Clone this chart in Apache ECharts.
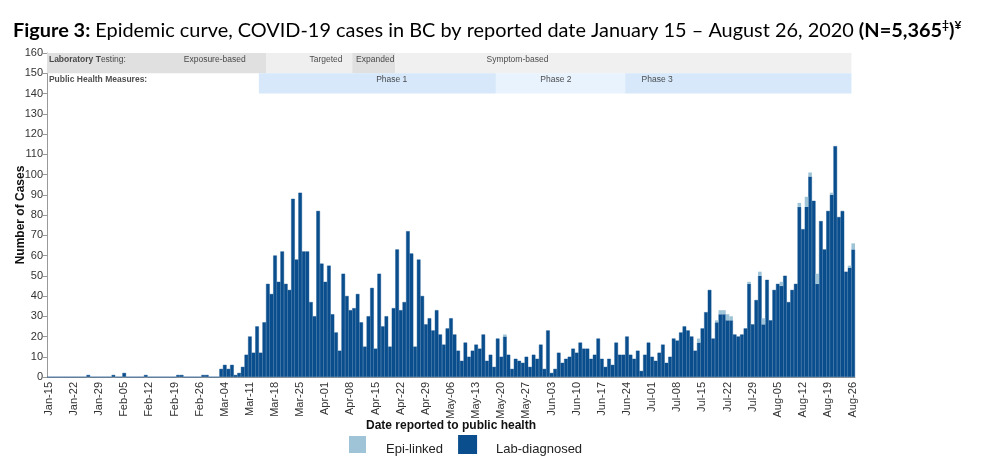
<!DOCTYPE html>
<html>
<head>
<meta charset="utf-8">
<script src="https://cdn.jsdelivr.net/npm/echarts@6/dist/echarts.min.js"></script>
<style>
  html, body { margin: 0; padding: 0; background: #fff; }
  #chart { width: 1004px; height: 460px; }
</style>
</head>
<body>
<div id="chart"></div>
<script>
// daily counts, Jan 15 .. Aug 26 2020 (225 days)
var startDate = new Date(2020, 0, 15);
var dayCount = 225;

var labDiagnosed = [
  0,0,0,0,0,0,0,0,0,0, 0,1,0,0,0,0,0,0,1,0,
  0,2,0,0,0,0,0,1,0,0, 0,0,0,0,0,0,1,1,0,0,
  0,0,0,1,1,0,0,0,4,6, 4,6,1,2,5,11,20,12,25,12,
  27,46,41,60,47,62,46,43,88,58, 91,62,62,37,30,82,56,47,55,31,
  22,13,51,40,33,34,41,27,15,30, 44,14,51,25,30,15,34,63,33,37,
  72,61,15,58,40,26,29,23,33,21, 16,24,29,21,13,8,17,10,13,16,
  14,21,8,11,5,19,10,20,11,4, 9,8,7,10,5,11,9,16,4,23,
  2,4,12,7,9,10,14,12,17,14, 14,9,11,19,9,5,9,6,17,11,
  11,20,11,9,13,3,11,17,10,8, 12,16,7,10,19,18,22,25,23,20,
  13,17,24,32,43,19,27,31,31,28, 28,21,20,21,24,46,26,38,50,26,
  48,28,43,46,45,50,37,43,46,84, 73,84,99,87,46,77,63,82,90,114,
  79,82,52,54,63
];

var epiLinked = [
  0,0,0,0,0,0,0,0,0,0, 0,0,0,0,0,0,0,0,0,0,
  0,0,0,0,0,0,0,0,0,0, 0,0,0,0,0,0,0,0,0,0,
  0,0,0,0,0,0,0,0,0,0, 0,0,0,0,0,0,0,0,0,0,
  0,0,0,0,0,0,0,0,0,0, 0,0,0,0,0,0,0,0,0,0,
  0,0,0,0,0,0,0,0,0,0, 0,0,0,0,0,0,0,0,0,0,
  0,0,0,0,0,0,0,0,0,0, 0,0,0,0,0,0,0,0,0,0,
  0,0,0,0,0,0,0,1,0,0, 0,0,0,0,0,0,0,0,0,0,
  0,0,0,0,0,0,0,0,0,0, 0,0,0,0,0,0,0,0,0,0,
  0,0,0,0,0,0,0,0,0,0, 0,0,0,0,0,0,0,0,0,0,
  0,2,0,0,0,0,1,2,2,3, 2,0,0,0,0,1,0,0,2,3,
  0,0,0,0,2,0,0,0,0,2, 0,5,2,0,5,0,0,0,1,0,
  0,0,0,1,3
];

var testingNames = ['Exposure-based', 'Targeted', 'Expanded', 'Symptom-based'];
var testingStarts = ['Jan-15', 'Mar-16', 'Apr-09', 'Apr-21'];
var phaseNames = ['Phase 1', 'Phase 2', 'Phase 3'];
var phaseStarts = ['Mar-14', 'May-19', 'Jun-24'];
var bandsEnd = 'Aug-26';

var yTicks = { min: 0, max: 160, step: 10 };

var monthAbbr = ['Jan','Feb','Mar','Apr','May','Jun','Jul','Aug','Sep','Oct','Nov','Dec'];
var categories = [];
for (var d = 0; d < dayCount; d++) {
    var dt = new Date(startDate.getFullYear(), startDate.getMonth(), startDate.getDate() + d);
    var dd = dt.getDate();
    categories.push(monthAbbr[dt.getMonth()] + '-' + (dd < 10 ? '0' + dd : dd));
}

var FONT = 'Arial';
var labColor = '#0b4e8d';
var epiColor = '#9fc4d7';

function idx(label) { return categories.indexOf(label); }

// band rectangles on the hidden value axis (day index = left edge of that day)
var testingColors = ['#e0e0e0', '#efefef', '#e0e0e0', '#f0f0f0'];
var phaseColors = ['#d6e8fa', '#e9f3fd', '#d6e8fa'];
var bandAreas = [];
testingNames.forEach(function(n, k) {
    var a = idx(testingStarts[k]);
    var b = k + 1 < testingStarts.length ? idx(testingStarts[k + 1]) : idx(bandsEnd);
    bandAreas.push([{ xAxis: a, yAxis: 150, itemStyle: { color: testingColors[k] } }, { xAxis: b, yAxis: 160 }]);
});
phaseNames.forEach(function(n, k) {
    var a = idx(phaseStarts[k]);
    var b = k + 1 < phaseStarts.length ? idx(phaseStarts[k + 1]) : idx(bandsEnd);
    bandAreas.push([{ xAxis: a, yAxis: 140, itemStyle: { color: phaseColors[k] } }, { xAxis: b, yAxis: 150 }]);
});

// band captions (x in day units, y in case units)
var labelPos = {
    'Exposure-based': [46.7, 156.6],
    'Targeted': [77.7, 156.6],
    'Expanded': [91.4, 156.6],
    'Symptom-based': [131, 156.6],
    'Phase 1': [96, 146.7],
    'Phase 2': [141.7, 146.7],
    'Phase 3': [169.9, 146.7]
};
var bandLabels = [
    { value: [0.4, 156.6], label: { position: 'right', distance: 0, formatter: '{b|Laboratory T}esting:' } },
    { value: [0.4, 146.7], label: { position: 'right', distance: 0, formatter: '{b|Public Health Measures:}' } }
];
testingNames.concat(phaseNames).forEach(function(n) {
    bandLabels.push({ value: labelPos[n], label: { position: 'inside', formatter: n } });
});

var chart = echarts.init(document.getElementById('chart'));
chart.setOption({
    animation: false,
    backgroundColor: '#fff',
    title: {
        left: 13,
        top: 19,
        padding: 0,
        text: '{b|Figure 3:} Epidemic curve, COVID-19 cases in BC by reported date January 15 \u2013 August 26, 2020 {b|(N=5,365}{sup|\u2021}{b|)}{sup|\u00a5}',
        textStyle: {
            fontFamily: 'Lato', fontSize: 19.9, fontWeight: 'normal', color: '#000', lineHeight: 24,
            rich: {
                b: { fontFamily: 'Lato', fontSize: 19.9, fontWeight: 'bold', color: '#000', lineHeight: 24 },
                sup: { fontFamily: 'Lato', fontSize: 12, fontWeight: 'bold', color: '#000', lineHeight: 12, verticalAlign: 'top' }
            }
        }
    },
    legend: {
        left: 344,
        top: 430,
        icon: 'rect',
        itemWidth: 17,
        itemHeight: 17,
        itemGap: 15,
        data: ['Epi-linked', 'Lab-diagnosed'],
        formatter: function(n) { return '{t|' + n + '}'; },
        textStyle: {
            fontFamily: FONT, fontSize: 13, color: '#222', padding: [0, 0, 0, 15],
            rich: { t: { fontFamily: FONT, fontSize: 13, color: '#222', padding: [10, 0, 0, 0] } }
        }
    },
    grid: { left: 47, right: 149, top: 53, bottom: 83 },
    xAxis: [{
        type: 'category',
        data: categories,
        boundaryGap: true,
        name: 'Date reported to public health',
        nameLocation: 'middle',
        nameGap: 43,
        nameMoveOverlap: false,
        nameTextStyle: { fontFamily: FONT, fontSize: 12, fontWeight: 'bold', color: '#111' },
        axisLine: { lineStyle: { color: '#999' } },
        axisTick: { interval: 0, length: 3, lineStyle: { color: '#aaa' } },
        axisLabel: { interval: 6, rotate: 90, fontFamily: FONT, fontSize: 11, color: '#333', margin: 5 }
    }, {
        type: 'value', min: 0, max: dayCount, show: false
    }],
    yAxis: {
        type: 'value',
        min: yTicks.min,
        max: yTicks.max,
        interval: yTicks.step,
        name: 'Number of Cases',
        nameLocation: 'middle',
        nameGap: 20,
        nameMoveOverlap: false,
        nameTextStyle: { fontFamily: FONT, fontSize: 12, fontWeight: 'bold', color: '#111' },
        axisLine: { show: true, lineStyle: { color: '#999' } },
        axisTick: { show: true, length: 4, lineStyle: { color: '#999' } },
        splitLine: { show: false },
        axisLabel: { fontFamily: FONT, fontSize: 11, color: '#333', margin: 4 }
    },
    series: [{
        name: 'Lab-diagnosed',
        type: 'bar',
        stack: 'cases',
        data: labDiagnosed,
        barCategoryGap: '0%',
        itemStyle: { color: labColor, borderColor: labColor, borderWidth: 0.4 }
    }, {
        name: 'Epi-linked',
        type: 'bar',
        stack: 'cases',
        data: epiLinked,
        barCategoryGap: '0%',
        itemStyle: { color: epiColor }
    }, {
        name: 'bands',
        type: 'scatter',
        xAxisIndex: 1,
        symbolSize: 1,
        silent: true,
        itemStyle: { color: 'rgba(0,0,0,0)' },
        label: {
            show: true,
            fontFamily: FONT, fontSize: 8.5, color: '#222',
            rich: { b: { fontFamily: FONT, fontSize: 8.5, fontWeight: 'bold', color: '#222' } }
        },
        data: bandLabels,
        markArea: { silent: true, label: { show: false }, data: bandAreas },
        z: 1
    }]
});
</script>
</body>
</html>
